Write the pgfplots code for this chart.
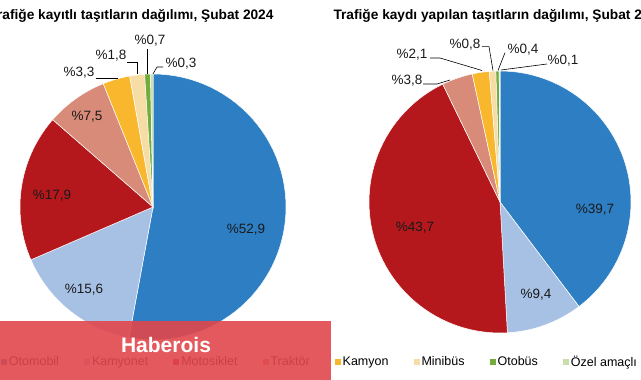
\documentclass[border=0pt]{standalone}
\usepackage{pgfplots}
\pgfplotsset{compat=1.18}
\usepackage{fontspec}
\setmainfont{Liberation Sans}
\definecolor{cOto}{HTML}{2E7EC4}
\definecolor{cKmt}{HTML}{A7C1E5}
\definecolor{cMot}{HTML}{B4181C}
\definecolor{cTrk}{HTML}{D98B79}
\definecolor{cKmy}{HTML}{F8B72C}
\definecolor{cMin}{HTML}{F6DCA5}
\definecolor{cOtb}{HTML}{74AC3C}
\definecolor{cOzl}{HTML}{C8DDAA}
\definecolor{cBan}{HTML}{E1474C}
% #1 cx, #2 cy, #3 r, #4 cumulative start (%), #5 value (%), #6 colour
\newcommand{\slice}[6]{%
  \addplot[fill=#6, draw=white, line width=0.5pt, domain=90-3.6*(#4+#5):90-3.6*(#4),
    samples=60, variable=\t, forget plot]
    ({#1+#3*cos(\t)},{#2+#3*sin(\t)}) -- (axis cs:#1,#2) -- cycle;}
\begin{document}
\begin{tikzpicture}
\useasboundingbox (0,0) rectangle (641pt,380pt);
\clip (0,0) rectangle (641pt,380pt);
\begin{axis}[
  at={(0,0)}, anchor=south west,
  width=641pt, height=380pt, scale only axis,
  xmin=0, xmax=641, ymin=0, ymax=380,
  hide axis, clip=false,
  legend columns=8,
  legend style={draw=none, fill=none, at={(axis cs:1,18)}, anchor=west,
    inner sep=0pt, outer sep=0pt,
    font=\fontsize{12.5}{14}\selectfont,
    nodes={inner xsep=2pt, inner ysep=1pt},
    /tikz/every even column/.append style={column sep=23pt}},
  legend image code/.code={\fill[#1] (0pt,-3pt) rectangle (6pt,3pt);},
]
% legend images
\addlegendimage{fill=cOto, draw=none}
\addlegendimage{fill=cKmt, draw=none}
\addlegendimage{fill=cMot, draw=none}
\addlegendimage{fill=cTrk, draw=none}
\addlegendimage{fill=cKmy, draw=none}
\addlegendimage{fill=cMin, draw=none}
\addlegendimage{fill=cOtb, draw=none}
\addlegendimage{fill=cOzl, draw=none}
\legend{Otomobil, Kamyonet, Motosiklet, Traktör, Kamyon, Minibüs, Otobüs, Özel amaçlı}

% Left pie: 52.9, 15.6, 17.9, 7.5, 3.3, 1.8, 0.7, 0.3
\slice{153}{173}{133}{0}{52.9}{cOto}
\slice{153}{173}{133}{52.9}{15.6}{cKmt}
\slice{153}{173}{133}{68.5}{17.9}{cMot}
\slice{153}{173}{133}{86.4}{7.5}{cTrk}
\slice{153}{173}{133}{93.9}{3.3}{cKmy}
\slice{153}{173}{133}{97.2}{1.8}{cMin}
\slice{153}{173}{133}{99.0}{0.7}{cOtb}
\slice{153}{173}{133}{99.7}{0.3}{cOzl}

% Right pie: 39.7, 9.4, 43.7, 3.8, 2.1, 0.8, 0.4, 0.1
\slice{500}{178}{131}{0}{39.7}{cOto}
\slice{500}{178}{131}{39.7}{9.4}{cKmt}
\slice{500}{178}{131}{49.1}{43.7}{cMot}
\slice{500}{178}{131}{92.8}{3.8}{cTrk}
\slice{500}{178}{131}{96.6}{2.1}{cKmy}
\slice{500}{178}{131}{98.7}{0.8}{cMin}
\slice{500}{178}{131}{99.5}{0.4}{cOtb}
\slice{500}{178}{131}{99.9}{0.1}{cOzl}

% titles
\node[anchor=base east, font=\bfseries\fontsize{13.7}{16}\selectfont] at (axis cs:277,360)
  {Trafiğe kayıtlı taşıtların dağılımı, Şubat 2024};
\node[anchor=base west, font=\bfseries\fontsize{13.7}{16}\selectfont] at (axis cs:330,360)
  {Trafiğe kaydı yapılan taşıtların dağılımı, Şubat 2024};

% labels
\begin{scope}[every node/.style={font=\fontsize{13.5}{15}\selectfont, text=black!90, inner sep=0pt}]
\node at (axis cs:246,150) {\%52,9};
\node at (axis cs:84,90) {\%15,6};
\node at (axis cs:52,184) {\%17,9};
\node at (axis cs:87,263) {\%7,5};
\node at (axis cs:79,307) {\%3,3};
\node at (axis cs:111,324) {\%1,8};
\node at (axis cs:150,339) {\%0,7};
\node at (axis cs:181,316.5) {\%0,3};
\node at (axis cs:595,170) {\%39,7};
\node at (axis cs:536,85) {\%9,4};
\node at (axis cs:415,152) {\%43,7};
\node at (axis cs:407,299) {\%3,8};
\node at (axis cs:412,325.5) {\%2,1};
\node at (axis cs:465,335) {\%0,8};
\node at (axis cs:523,330) {\%0,4};
\node at (axis cs:563,319) {\%0,1};
\end{scope}

% leader lines
\begin{scope}[line width=0.6pt, black]
\draw (axis cs:96,302) -- (axis cs:118,302);
\draw (axis cs:127,318) -- (axis cs:137,318) -- (axis cs:137,306);
\draw (axis cs:147.3,331) -- (axis cs:147.3,306);
\draw (axis cs:163,313) -- (axis cs:157,313) -- (axis cs:153,306);
\draw (axis cs:423,296) -- (axis cs:437,296) -- (axis cs:450,300);
\draw (axis cs:430,322) -- (axis cs:440,322) -- (axis cs:482,309.5);
\draw (axis cs:482,333.3) -- (axis cs:489,333.3) -- (axis cs:493,309.5);
\draw (axis cs:505,327.3) -- (axis cs:498,309.5);
\draw (axis cs:547,316) -- (axis cs:501,310);
\end{scope}
\end{axis}
% watermark banner
\fill[cBan, opacity=0.9] (0pt,0pt) rectangle (331pt,59.3pt);
\node[anchor=base, text=white, font=\bfseries\fontsize{21}{24}\selectfont] at (166pt,27pt) {Haberois};
\end{tikzpicture}
\end{document}
